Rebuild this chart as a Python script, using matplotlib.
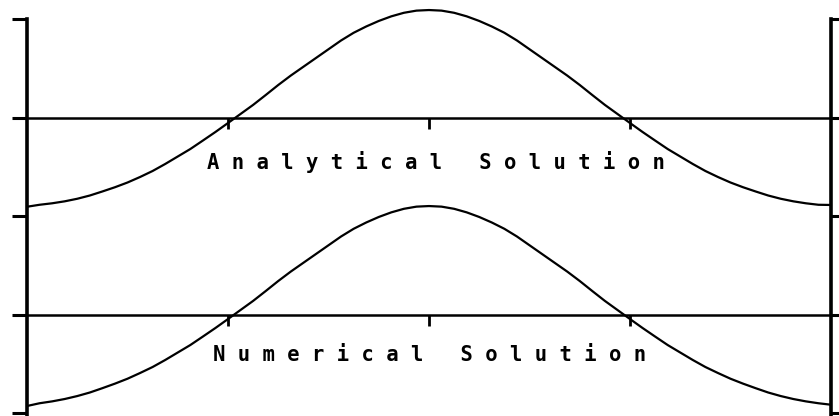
import matplotlib
matplotlib.use("Agg")
import matplotlib.pyplot as plt
import numpy as np

# Sample positions along the domain (step 1/16)
x = np.linspace(0.0, 4.0, 65)

# Analytical solution (plotted on the upper baseline)
analytical = [2.094, 2.114, 2.129, 2.149, 2.175, 2.208, 2.249, 2.292,
              2.340, 2.396, 2.457, 2.528, 2.604, 2.680, 2.766, 2.853,
              2.944, 3.036, 3.128, 3.228, 3.330, 3.426, 3.515, 3.604,
              3.693, 3.782, 3.860, 3.924, 3.980, 4.027, 4.063, 4.085,
              4.091,
              4.085, 4.063, 4.027, 3.980, 3.924, 3.860, 3.782, 3.693,
              3.604, 3.515, 3.426, 3.330, 3.228, 3.128, 3.036, 2.944,
              2.853, 2.766, 2.680, 2.604, 2.528, 2.457, 2.396, 2.340,
              2.292, 2.249, 2.208, 2.175, 2.149, 2.129, 2.114, 2.112]

# Numerical solution (plotted on the lower baseline)
numerical = [0.071, 0.099, 0.118, 0.142, 0.172, 0.208, 0.252, 0.298,
             0.348, 0.406, 0.467, 0.538, 0.614, 0.690, 0.776, 0.863,
             0.954, 1.046, 1.138, 1.238, 1.340, 1.436, 1.525, 1.614,
             1.703, 1.792, 1.870, 1.934, 1.990, 2.037, 2.073, 2.095,
             2.101,
             2.095, 2.073, 2.037, 1.990, 1.934, 1.870, 1.792, 1.703,
             1.614, 1.525, 1.436, 1.340, 1.238, 1.138, 1.046, 0.954,
             0.863, 0.776, 0.690, 0.614, 0.538, 0.467, 0.406, 0.348,
             0.298, 0.252, 0.208, 0.172, 0.142, 0.118, 0.099, 0.084]

baselines = [1.0, 3.0]
baseline_ticks = [1.0, 2.0, 3.0]
y_ticks = [0, 1, 2, 3, 4]
labels = ["A n a l y t i c a l   S o l u t i o n",
          "N u m e r i c a l   S o l u t i o n"]
label_pos = [(2.035, 2.548), (2.005, 0.589)]

W, H = 839, 416
fig = plt.figure(figsize=(W / 100, H / 100), dpi=100)
ax = fig.add_axes([27 / W, 0.0, (831 - 27) / W, (H - 19) / H])
ax.set_xlim(0, 4)
ax.set_ylim(-3 / 98.5, 4)

for side in ("top", "bottom"):
    ax.spines[side].set_visible(False)
for side in ("left", "right"):
    ax.spines[side].set_linewidth(2.6)
    ax.spines[side].set_color("black")
    ax.spines[side].set_bounds(-3 / 98.5, 4)

ax.set_xticks([])
ax.set_yticks(y_ticks)
ax.tick_params(axis="y", which="major", left=True, right=True,
               labelleft=False, labelright=False, direction="out",
               length=11, width=2.2, color="black")

# Baselines with small downward ticks
for b in baselines:
    ax.axhline(b, color="black", lw=1.8)
    ax.plot(baseline_ticks, [b] * len(baseline_ticks), ls="none",
            marker=3, markersize=8, markeredgewidth=2.0, color="black")

for series in (analytical, numerical):
    ax.plot(x, series, color="black", lw=1.6, clip_on=False,
            solid_joinstyle="round", solid_capstyle="round")

for text, (tx, ty) in zip(labels, label_pos):
    ax.text(tx, ty, text, ha="center", va="center", fontsize=14.8,
            fontweight="bold", family="DejaVu Sans Mono", color="black")

fig.savefig("out.png", dpi=100)
